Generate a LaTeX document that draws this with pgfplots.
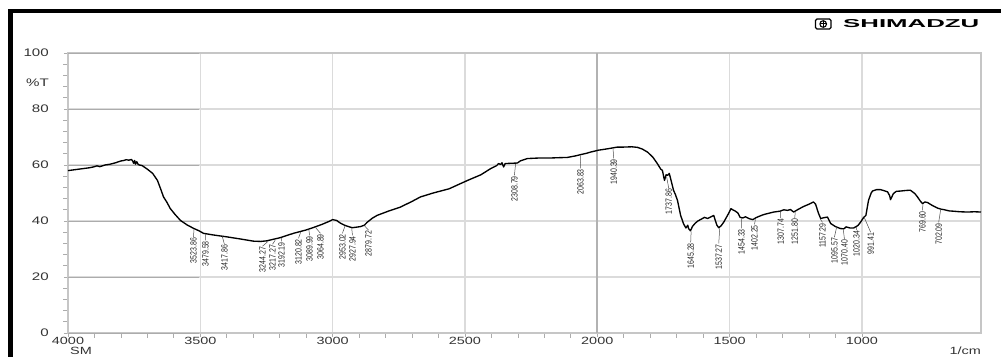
\documentclass[border=0pt]{standalone}
\usepackage{graphicx}
\usepackage{pgfplots}
\pgfplotsset{compat=1.18}
\usepackage{fontspec}
\setmainfont{Liberation Sans}
\newcommand\wide[1]{\scalebox{1.38}[1]{#1}}
\newcommand\pk[5]{\draw[black!70, line width=0.5bp] (axis cs:#1,#2) -- (axis cs:#3,#4) node[rotate=90, anchor=east, inner sep=0.6bp, font=\fontsize{7}{7}\selectfont, text=black!85] {\scalebox{1}[1.3]{#5}};}
\begin{document}
\begin{tikzpicture}[x=1bp,y=1bp]
\useasboundingbox (0,0) rectangle (1001,356);
% outer frame (left and top visible)
\draw[line width=4.5bp, line join=miter] (10.5,-10) -- (10.5,345) -- (1020,345);
% logo
\draw[line width=1.4bp, rounded corners=1.5bp] (815.5,327) rectangle (831,337);
\draw[line width=1.1bp] (823.2,332) circle (3.3bp);
\draw[line width=1bp] (823.2,328.7) -- (823.2,335.3) (819.9,332) -- (826.5,332);
\node[anchor=west, inner sep=0pt, font=\fontsize{11.5}{12}\selectfont\bfseries] at (843,332) {\scalebox{2.25}[1]{SHIMADZU}};
\begin{axis}[
  at={(68bp,23bp)}, anchor=south west,
  width=913bp, height=280bp, scale only axis,
  x dir=reverse, xmin=550, xmax=4000, ymin=0, ymax=100,
  xtick={1000,1500,2000,2500,3000,3500,4000},
  xticklabels={\wide{1000},\wide{1500},\wide{2000},\wide{2500},\wide{3000},\wide{3500},\wide{4000}},
  ytick={0,20,40,60,80,100},
  yticklabels={\wide{0},\wide{20},\wide{40},\wide{60},\wide{80},\wide{100}},
  minor x tick num=4, minor y tick num=4,
  xtick pos=bottom, ytick pos=left,
  grid=major, major grid style={gray!28, line width=1.5bp},
  axis line style={gray!45, line width=1.2bp},
  tick style={gray!65, line width=0.7bp},
  tick align=outside, major tick length=4bp, minor tick length=4.5bp,
  xticklabel style={font=\fontsize{10.5}{11}\selectfont, text=black!80, anchor=north, inner sep=0pt, yshift=0.5bp},
  yticklabel style={font=\fontsize{11}{12}\selectfont, text=black!80, anchor=east, inner sep=0pt, xshift=-15bp},
  clip=false,
]
\pgfplotsinvokeforeach{0,20,40,60,80,100}{\draw[gray!65, line width=0.7bp] (axis cs:4000,#1) -- ++(-15bp,0);}
\draw[gray!60, line width=2bp] (axis cs:2000,0) -- (axis cs:2000,100);
\addplot[black, line width=1.35bp, line join=round, mark=none] table {
4000 58.0
3960 58.5
3920 59.0
3904 59.3
3890 59.7
3880 59.4
3860 60.0
3840 60.3
3820 60.8
3802 61.4
3790 61.6
3780 61.9
3770 61.7
3760 62.0
3755 61.3
3752 60.6
3748 61.6
3745 60.3
3740 61.2
3735 60.2
3730 60.0
3720 59.8
3700 58.5
3680 57.0
3662 54.5
3650 51.5
3639 48.6
3625 46.5
3614 44.5
3595 42.3
3575 40.2
3550 38.6
3526 37.4
3505 36.5
3488 35.6
3450 35.0
3397 34.3
3350 33.6
3299 32.8
3272 32.7
3250 32.9
3200 34.0
3148 35.6
3100 36.8
3072 37.7
3040 38.8
3010 40.0
3000 40.5
2985 40.2
2970 39.2
2955 38.5
2940 38.0
2926 37.6
2910 37.8
2895 38.0
2880 38.5
2870 39.5
2850 41.0
2832 42.0
2790 43.5
2743 45.0
2700 47.0
2668 48.6
2620 50.0
2560 51.5
2490 54.5
2440 56.5
2403 58.7
2380 59.8
2373 60.5
2365 60.2
2360 60.8
2354 59.3
2348 60.5
2330 60.6
2302 60.7
2290 61.5
2264 62.3
2220 62.5
2177 62.5
2150 62.6
2113 62.7
2080 63.3
2063 63.7
2040 64.2
2026 64.6
1995 65.3
1960 65.8
1924 66.4
1900 66.4
1870 66.5
1848 66.3
1830 65.7
1810 64.6
1790 62.8
1773 60.5
1760 58.5
1754 58.1
1746 54.5
1740 56.5
1734 56.3
1728 57.0
1723 55.2
1712 51.0
1705 49.5
1697 47.4
1685 42.0
1674 39.0
1665 37.5
1658 38.5
1655 37.3
1648 36.5
1640 38.1
1630 39.2
1620 40.0
1610 40.5
1595 41.3
1583 40.9
1570 41.5
1560 42.0
1555 40.5
1548 38.5
1541 37.6
1532 38.3
1522 39.6
1505 42.5
1495 44.4
1488 44.0
1478 43.5
1469 42.9
1460 41.3
1450 41.1
1440 41.5
1425 40.8
1412 40.5
1400 41.2
1385 41.8
1371 42.3
1350 42.8
1333 43.2
1310 43.5
1295 44.0
1281 43.8
1270 44.1
1258 43.2
1240 44.2
1220 45.2
1200 46.0
1183 46.8
1175 46.0
1165 43.0
1156 40.9
1143 41.2
1130 41.4
1118 39.1
1100 38.0
1081 37.3
1068 37.2
1060 37.9
1045 37.5
1031 37.5
1015 38.4
1005 39.6
994 41.2
985 42.0
975 47.4
965 50.0
960 50.7
945 51.2
930 51.2
915 50.8
903 50.4
895 49.0
892 47.6
885 49.0
881 49.8
870 50.6
854 50.7
835 50.9
817 51.0
800 49.8
790 48.6
780 47.2
771 46.2
762 46.8
752 46.6
735 45.6
714 44.6
700 44.2
692 44.1
670 43.6
654 43.5
630 43.3
601 43.2
575 43.3
550 43.2
};
\pk{3523.86}{37.0}{3526}{34.2}{3523.86}
\pk{3479.58}{35.4}{3480}{33.1}{3479.58}
\pk{3417.86}{34.8}{3409}{31.7}{3417.86}
\pk{3244.27}{32.7}{3265}{31.0}{3244.27}
\pk{3217.27}{33.1}{3227}{31.7}{3217.27}
\pk{3192.19}{34.0}{3193}{32.7}{3192.19}
\pk{3120.82}{36.0}{3129}{33.8}{3120.82}
\pk{3089.99}{37.0}{3087}{34.9}{3089.99}
\pk{3064.89}{37.7}{3046}{35.6}{3064.89}
\pk{2953.02}{38.3}{2963}{35.6}{2953.02}
\pk{2927.94}{37.4}{2925}{34.9}{2927.94}
\pk{2879.72}{38.3}{2864}{36.7}{2879.72}
\pk{2308.79}{60.4}{2313}{56.3}{2308.79}
\pk{2063.83}{63.4}{2063}{58.8}{2063.83}
\pk{1940.39}{65.9}{1938}{62.4}{1940.39}
\pk{1737.86}{55.8}{1730}{51.7}{1737.86}
\pk{1645.28}{36.3}{1647}{32.4}{1645.28}
\pk{1537.27}{37.4}{1541}{32.0}{1537.27}
\pk{1454.33}{40.9}{1455}{37.4}{1454.33}
\pk{1402.25}{40.6}{1406}{38.8}{1402.25}
\pk{1307.74}{43.3}{1307}{41.0}{1307.74}
\pk{1251.80}{43.1}{1254}{41.0}{1251.80}
\pk{1157.29}{40.7}{1149}{39.5}{1157.29}
\pk{1095.57}{37.8}{1104}{34.2}{1095.57}
\pk{1070.40}{37.0}{1066}{33.5}{1070.40}
\pk{1020.34}{37.8}{1020}{36.7}{1020.34}
\pk{991.41}{41.3}{967}{36.0}{991.41}
\pk{769.60}{46.0}{771}{43.8}{769.60}
\pk{702.09}{44.2}{710}{39.5}{702.09}
\node[anchor=east, inner sep=0pt, font=\fontsize{11}{12}\selectfont, text=black!80] at (axis cs:4000,89.3) [xshift=-19bp] {\wide{\%T}};
\end{axis}
\node[anchor=north west, inner sep=0pt, font=\fontsize{10.5}{11}\selectfont, text=black!80] at (70,8.8) {\wide{SM}};
\node[anchor=north east, inner sep=0pt, font=\fontsize{10.5}{11}\selectfont, text=black!80] at (981,8.8) {\wide{1/cm}};
\end{tikzpicture}
\end{document}
